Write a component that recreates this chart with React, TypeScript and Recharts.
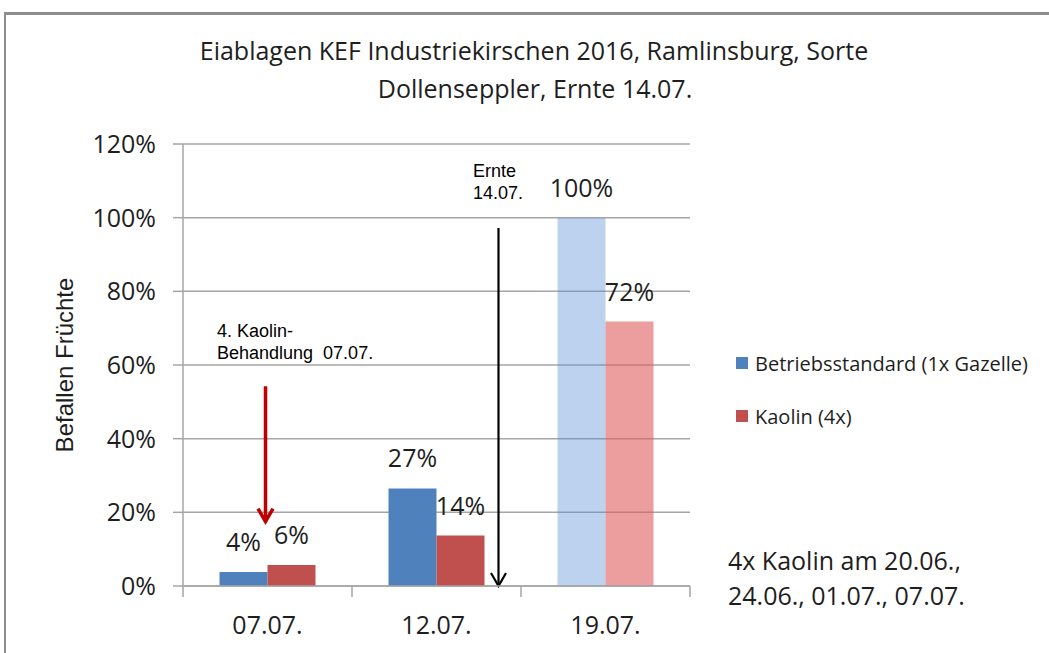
import React from "react";
import {
  BarChart,
  Bar,
  Cell,
  XAxis,
  YAxis,
  CartesianGrid,
  LabelList,
  ReferenceLine,
} from "recharts";

const categories = ["07.07.", "12.07.", "19.07."];
const betriebsstandard = [3.8, 26.5, 100];
const kaolin = [5.7, 13.7, 71.8];
const faded = [false, false, true];
const yTicks = [0, 20, 40, 60, 80, 100, 120];

const seriesNames = ["Betriebsstandard (1x Gazelle)", "Kaolin (4x)"];
const seriesColors = ["#4F81BD", "#C0504D"];
const fadedColors = ["#5A8FD6", "#E05C5D"];

const W = 1049;
const H = 653;
const MARGIN = { top: 144, right: 359, bottom: 0, left: 63 };
const Y_AXIS_W = 120;
const GRID = "#A6A6A6";
const TEXT = "#1E1E1E";
const FONT = "'Open Sans', sans-serif";
const ARIAL = "'Liberation Sans', Arial, sans-serif";

const HALF_BAND = (W - MARGIN.left - Y_AXIS_W - MARGIN.right) / categories.length / 2;

const data = categories.map((name, i) => ({
  name,
  betrieb: betriebsstandard[i],
  kaolin: kaolin[i],
}));

// x tick label + tick marks on the category boundaries (Excel style)
const XTick = (props: any) => {
  const { x, y, payload, index } = props;
  return (
    <g>
      {index === 0 && (
        <line x1={x - HALF_BAND} y1={y} x2={x - HALF_BAND} y2={y + 11} stroke={GRID} strokeWidth={1.5} />
      )}
      <line x1={x + HALF_BAND} y1={y} x2={x + HALF_BAND} y2={y + 11} stroke={GRID} strokeWidth={1.5} />
      <text x={x} y={y + 48} textAnchor="middle" fontSize={25} fill={TEXT} fontFamily={FONT}>
        {payload.value}
      </text>
    </g>
  );
};

const arrowShape = (color: string, width: number, head: number, dx: number) => (props: any) => {
  const { x1, y1, y2 } = props;
  const x = x1 + dx;
  return (
    <g>
      <line x1={x} y1={y1} x2={x} y2={y2} stroke={color} strokeWidth={width} />
      <polyline
        points={`${x - head},${y2 - 13} ${x},${y2} ${x + head},${y2 - 13}`}
        fill="none"
        stroke={color}
        strokeWidth={width}
      />
    </g>
  );
};

const pctLabel = (v: any) => `${Math.round(Number(v))}%`;

export default function App() {
  return (
    <div
      style={{
        position: "absolute",
        left: 0,
        top: 0,
        width: W,
        height: H,
        background: "#fff",
        overflow: "hidden",
        fontFamily: FONT,
      }}
    >
      <div
        style={{
          position: "absolute",
          left: 4,
          top: 12,
          width: W,
          height: H,
          borderTop: "3px solid #8C8C8C",
          borderLeft: "2px solid #8C8C8C",
        }}
      />
      <div style={{ position: "absolute", left: 0, top: 0 }}>
        <BarChart
          width={W}
          height={H}
          data={data}
          margin={MARGIN}
          barCategoryGap="21.6%"
          barGap={0}
        >
          <CartesianGrid vertical={false} stroke={GRID} strokeWidth={1.5} />
          <XAxis
            dataKey="name"
            height={67}
            tickLine={false}
            tickSize={0}
            tickMargin={0}
            axisLine={{ stroke: GRID, strokeWidth: 1.5 }}
            tick={<XTick />}
            interval={0}
          />
          <YAxis
            width={Y_AXIS_W}
            domain={[0, 120]}
            ticks={yTicks}
            interval={0}
            tickFormatter={(v) => `${v}%`}
            tickSize={10}
            tickMargin={17}
            axisLine={{ stroke: GRID, strokeWidth: 1.5 }}
            tickLine={{ stroke: GRID, strokeWidth: 1.5 }}
            tick={{ fontSize: 25, fill: TEXT, fontFamily: FONT }}
          />
          <Bar dataKey="betrieb" fill={seriesColors[0]} isAnimationActive={false}>
            {data.map((d, i) => (
              <Cell
                key={`b-${d.name}`}
                fill={faded[i] ? fadedColors[0] : seriesColors[0]}
                fillOpacity={faded[i] ? 0.4 : 1}
              />
            ))}
            <LabelList
              dataKey="betrieb"
              position="top"
              offset={21}
              formatter={pctLabel}
              style={{ fontSize: 25, fill: TEXT, fontFamily: FONT }}
            />
          </Bar>
          <Bar dataKey="kaolin" fill={seriesColors[1]} isAnimationActive={false}>
            {data.map((d, i) => (
              <Cell
                key={`k-${d.name}`}
                fill={faded[i] ? fadedColors[1] : seriesColors[1]}
                fillOpacity={faded[i] ? 0.6 : 1}
              />
            ))}
            <LabelList
              dataKey="kaolin"
              position="top"
              offset={21}
              formatter={pctLabel}
              style={{ fontSize: 25, fill: TEXT, fontFamily: FONT }}
            />
          </Bar>
          <ReferenceLine
            segment={[
              { x: "07.07.", y: 54.2 },
              { x: "07.07.", y: 17.5 },
            ]}
            ifOverflow="visible"
            shape={arrowShape("#C00000", 3.5, 7.5, -2)}
          />
          <ReferenceLine
            segment={[
              { x: "12.07.", y: 97.2 },
              { x: "12.07.", y: 0 },
            ]}
            ifOverflow="visible"
            shape={arrowShape("#000000", 2.2, 7.5, 62)}
          />
        </BarChart>
      </div>

      <svg
        width={W}
        height={H}
        style={{ position: "absolute", left: 0, top: 0, pointerEvents: "none" }}
      >
        <g fontFamily={FONT} fill={TEXT} fontSize={25} textAnchor="middle">
          <text x={534} y={60}>Eiablagen KEF Industriekirschen 2016, Ramlinsburg, Sorte</text>
          <text x={535} y={98}>Dollenseppler, Ernte 14.07.</text>
        </g>
        <text
          transform="translate(73,365) rotate(-90)"
          textAnchor="middle"
          fontFamily={ARIAL}
          fontSize={24}
          fill={TEXT}
        >
          Befallen Früchte
        </text>
        <g fontFamily={ARIAL} fontSize={18} fill="#000">
          <text x={217} y={337}>4. Kaolin-</text>
          <text x={217} y={359} style={{ whiteSpace: "pre" }}>
            {"Behandlung  07.07."}
          </text>
          <text x={473} y={177}>Ernte</text>
          <text x={473} y={199}>14.07.</text>
        </g>
        <g fontFamily={FONT} fontSize={25} fill={TEXT}>
          <text x={728} y={570}>4x Kaolin am 20.06.,</text>
          <text x={728} y={605}>24.06., 01.07., 07.07.</text>
        </g>
      </svg>

      <div style={{ position: "absolute", left: 736, top: 350, fontFamily: FONT, color: TEXT }}>
        {seriesNames.map((name, i) => (
          <div key={name} style={{ display: "flex", alignItems: "center", height: 26, marginBottom: 27 }}>
            <span
              style={{
                display: "inline-block",
                width: 12,
                height: 12,
                background: seriesColors[i],
                marginRight: 7,
              }}
            />
            <span style={{ fontSize: 20, whiteSpace: "nowrap" }}>{name}</span>
          </div>
        ))}
      </div>
    </div>
  );
}
